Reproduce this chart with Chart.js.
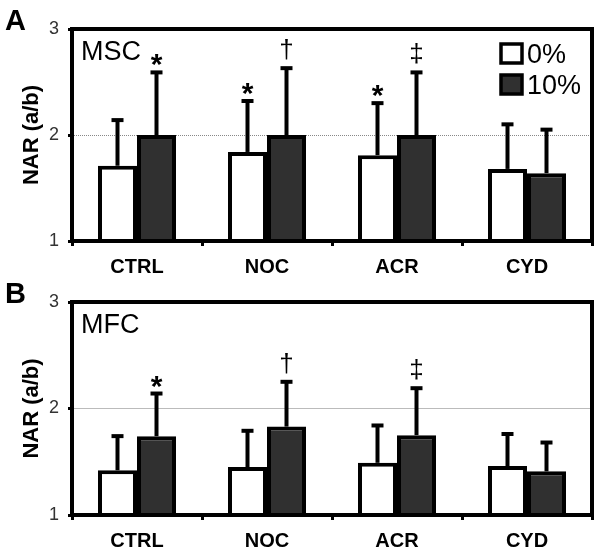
<!DOCTYPE html>
<html>
<head>
<meta charset="utf-8">
<script src="https://cdn.jsdelivr.net/npm/chart.js@4/dist/chart.umd.min.js"></script>
<style>
  body { margin: 0; background: #fff; }
  canvas { position: absolute; left: 0; }
  #chartA { top: 0; }
  #chartB { top: 270px; }
</style>
</head>
<body>
<canvas id="chartA" width="601" height="285"></canvas>
<canvas id="chartB" width="601" height="285"></canvas>
<script>
const categorias = ["CTRL", "NOC", "ACR", "CYD"];
const series = ["0%", "10%"];
const ticksY = [1, 2, 3];

// panel A - MSC
const mscCero = [1.71, 1.84, 1.81, 1.68];
const mscDiez = [2.00, 2.00, 2.00, 1.64];
const mscCeroErr = [2.15, 2.33, 2.31, 2.11];
const mscDiezErr = [2.60, 2.64, 2.60, 2.06];
const mscCeroMarca = ["", "*", "*", ""];
const mscDiezMarca = ["*", "†", "‡", ""];

// panel B - MFC
const mfcCero = [1.42, 1.45, 1.49, 1.46];
const mfcDiez = [1.74, 1.83, 1.75, 1.41];
const mfcCeroErr = [1.75, 1.80, 1.85, 1.77];
const mfcDiezErr = [2.15, 2.26, 2.20, 1.69];
const mfcCeroMarca = ["", "", "", ""];
const mfcDiezMarca = ["*", "†", "‡", ""];

const FUENTE = "'Liberation Sans', Arial, sans-serif";
const colorOscuro = "#303030";

// barras de error (solo hacia arriba) y simbolos
const errorBars = {
  id: "errorBars",
  afterDatasetsDraw(chart) {
    const ctx = chart.ctx;
    const y = chart.scales.y;
    chart.data.datasets.forEach((ds, i) => {
      const meta = chart.getDatasetMeta(i);
      meta.data.forEach((bar, j) => {
        const top = y.getPixelForValue(ds.errores[j]);
        ctx.save();
        ctx.strokeStyle = "#000";
        ctx.lineWidth = 4;
        ctx.beginPath();
        ctx.moveTo(bar.x, bar.y);
        ctx.lineTo(bar.x, top);
        ctx.stroke();
        ctx.beginPath();
        ctx.moveTo(bar.x - 6, top + 1);
        ctx.lineTo(bar.x + 6, top + 1);
        ctx.stroke();
        const marca = ds.marcas[j];
        if (marca) {
          ctx.fillStyle = "#000";
          ctx.textAlign = "center";
          ctx.textBaseline = "alphabetic";
          if (marca === "*") {
            ctx.font = "bold 30px " + FUENTE;
            ctx.fillText(marca, bar.x, top + 3);
          } else {
            ctx.font = "26px " + FUENTE;
            ctx.fillText(marca, bar.x, top - 9);
          }
        }
        ctx.restore();
      });
    });
  },
};

// marco, letra del panel, nombre y leyenda
const decoracion = {
  id: "decoracion",
  afterDraw(chart, args, opts) {
    const ctx = chart.ctx;
    const a = chart.chartArea;
    ctx.save();
    ctx.strokeStyle = "#000";
    ctx.lineWidth = 4;
    ctx.strokeRect(a.left, a.top, a.right - a.left, a.bottom - a.top);

    ctx.fillStyle = "#000";
    ctx.textAlign = "left";
    ctx.textBaseline = "alphabetic";
    ctx.font = "bold 29px " + FUENTE;
    ctx.fillText(opts.letra, 5, opts.letraY);

    ctx.font = "27px " + FUENTE;
    ctx.fillText(opts.nombre, a.left + 9, a.top + 31);

    if (opts.leyenda) {
      chart.data.datasets.forEach((ds, i) => {
        const bx = 501, by = 44 + i * 31;
        ctx.fillStyle = ds.backgroundColor;
        ctx.fillRect(bx, by, 21, 19);
        ctx.lineWidth = 3.5;
        ctx.strokeStyle = "#000";
        ctx.strokeRect(bx, by, 21, 19);
        ctx.fillStyle = "#000";
        ctx.font = "27px " + FUENTE;
        ctx.fillText(ds.label, 527, by + 19);
      });
    }
    ctx.restore();
  },
};

function armarConfig(cero, diez, ceroErr, diezErr, ceroMarca, diezMarca, extra) {
  return {
    type: "bar",
    data: {
      labels: categorias,
      datasets: [
        {
          label: series[0],
          data: cero,
          errores: ceroErr,
          marcas: ceroMarca,
          backgroundColor: "#ffffff",
          borderColor: "#000",
          borderWidth: 4,
        },
        {
          label: series[1],
          data: diez,
          errores: diezErr,
          marcas: diezMarca,
          backgroundColor: colorOscuro,
          borderColor: "#000",
          borderWidth: 4,
        },
      ],
    },
    options: {
      responsive: false,
      animation: false,
      layout: { padding: { left: 0, right: 9, top: extra.top, bottom: 0 } },
      datasets: { bar: { categoryPercentage: 0.6, barPercentage: 1 } },
      plugins: {
        legend: { display: false },
        tooltip: { enabled: false },
        decoracion: extra.deco,
      },
      scales: {
        x: {
          afterFit: (s) => { s.height = extra.alturaX; },
          border: { color: "#000", width: 4 },
          grid: {
            offset: true,
            drawOnChartArea: false,
            tickColor: "#000",
            tickLength: 5,
            tickWidth: 3,
          },
          ticks: {
            color: "#000",
            padding: 9,
            font: { family: FUENTE, size: 20, weight: "bold" },
          },
        },
        y: {
          min: 1,
          max: 3,
          afterFit: (s) => { s.width = 72; },
          afterBuildTicks: (s) => { s.ticks = ticksY.map((v) => ({ value: v })); },
          border: { color: "#000", width: 4, dash: extra.dash },
          grid: {
            color: (c) => (c.tick && c.tick.value === 2 ? extra.colorGrid : "rgba(0,0,0,0)"),
            lineWidth: 1,
            tickColor: "#000",
            tickLength: 4,
            tickWidth: 3,
          },
          ticks: {
            color: "#333",
            padding: 9,
            font: { family: FUENTE, size: 18 },
          },
          title: {
            display: true,
            text: "NAR (a/b)",
            color: "#000",
            padding: { top: 19, bottom: 0 },
            font: { family: FUENTE, size: 22, weight: "bold" },
          },
        },
      },
    },
    plugins: [errorBars, decoracion],
  };
}

new Chart(
  document.getElementById("chartA"),
  armarConfig(mscCero, mscDiez, mscCeroErr, mscDiezErr, mscCeroMarca, mscDiezMarca, {
    top: 29,
    alturaX: 44,
    dash: [1, 1],
    colorGrid: "#888",
    deco: { letra: "A", letraY: 30, nombre: "MSC", leyenda: true },
  })
);

new Chart(
  document.getElementById("chartB"),
  armarConfig(mfcCero, mfcDiez, mfcCeroErr, mfcDiezErr, mfcCeroMarca, mfcDiezMarca, {
    top: 32,
    alturaX: 40,
    dash: [],
    colorGrid: "#bbb",
    deco: { letra: "B", letraY: 33, nombre: "MFC", leyenda: false },
  })
);
</script>
</body>
</html>
